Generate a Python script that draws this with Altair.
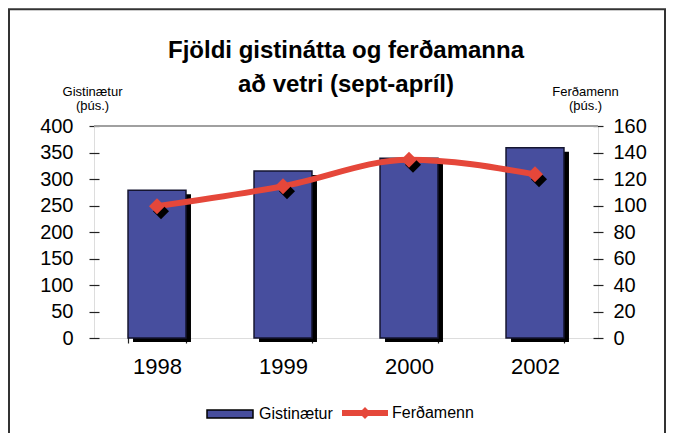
import altair as alt
import pandas as pd

years = ["1998", "1999", "2000", "2002"]
gistinaetur = [279, 315, 339, 359]
ferdamenn = [99.5, 114.5, 134.5, 123.5]
left_ticks = [0, 50, 100, 150, 200, 250, 300, 350, 400]
right_ticks = [0, 20, 40, 60, 80, 100, 120, 140, 160]

FONT = "Liberation Sans"
BAR_COLOR = "#474E9E"
LINE_COLOR = "#E5473A"

bars_df = pd.DataFrame({"year": years, "value": gistinaetur, "series": ["Gistinætur"] * 4})
line_df = pd.DataFrame({"year": years, "value": ferdamenn, "series": ["Ferðamenn"] * 4})

x_enc = alt.X(
    "year:N",
    sort=years,
    scale=alt.Scale(paddingInner=0.54, paddingOuter=0.27),
    axis=alt.Axis(
        title=None, labelAngle=0, labelFont=FONT, labelFontSize=22, labelColor="black",
        domain=False, offset=-5, tickSize=10, tickColor="#222", tickWidth=1.2,
        tickBand="extent", labelPadding=13,
    ),
)

y_left = alt.Y(
    "value:Q",
    scale=alt.Scale(domain=[0, 400], nice=False),
    axis=alt.Axis(
        values=left_ticks, title=["Gistinætur", "(þús.)"], titleAngle=0,
        titleFont=FONT, titleFontSize=13, titleFontWeight="normal", titleColor="black",
        titleX=-7, titleY=-41, titleAlign="center", titleBaseline="top", titleLineHeight=14,
        labelFont=FONT, labelFontSize=20, labelColor="black", labelPadding=16,
        domain=False, offset=-5, tickSize=10, tickColor="#222", tickWidth=1.2, grid=False,
    ),
)

y_right = alt.Y(
    "value:Q",
    scale=alt.Scale(domain=[0, 160], nice=False),
    axis=alt.Axis(
        orient="right", values=right_ticks, title=["Ferðamenn", "(þús.)"], titleAngle=0,
        titleFont=FONT, titleFontSize=13, titleFontWeight="normal", titleColor="black",
        titleX=-8, titleY=-41, titleAlign="center", titleBaseline="top", titleLineHeight=14,
        labelFont=FONT, labelFontSize=20, labelColor="black", labelPadding=10,
        domain=False, offset=-5, tickSize=10, tickColor="#222", tickWidth=1.2, grid=False,
    ),
)

frame = alt.Chart(alt.Data(values=[{}])).mark_rect(
    fillOpacity=0, stroke="#333", strokeWidth=2
).encode(x=alt.value(-85), x2=alt.value(571), y=alt.value(-116.7), y2=alt.value(340))

top_rule = alt.Chart(alt.Data(values=[{}])).mark_rule(
    color="#A0A0A0", strokeWidth=2
).encode(x=alt.value(0), x2=alt.value(504), y=alt.value(0))

bar_shadow = alt.Chart(bars_df).mark_bar(
    color="black", xOffset=5, yOffset=4
).encode(x=x_enc, y=y_left)

bars = alt.Chart(bars_df).mark_bar(
    stroke="#151530", strokeWidth=1.5
).encode(
    x=x_enc,
    y=y_left,
    fill=alt.Fill(
        "series:N",
        scale=alt.Scale(domain=["Gistinætur"], range=[BAR_COLOR]),
        legend=alt.Legend(
            orient="none", legendX=112, legendY=264, title=None,
            symbolType="M-1,-0.17H1V0.17H-1Z", symbolSize=2116,
            symbolStrokeColor="black", symbolStrokeWidth=1.5,
            labelFont=FONT, labelFontSize=16, labelColor="black", labelOffset=5,
        ),
    ),
)

line = alt.Chart(line_df).mark_line(
    strokeWidth=6, interpolate="monotone"
).encode(
    x=x_enc,
    y=y_right,
    stroke=alt.Stroke(
        "series:N",
        scale=alt.Scale(domain=["Ferðamenn"], range=[LINE_COLOR]),
        legend=alt.Legend(
            orient="none", legendX=248, legendY=264, title=None,
            symbolType="M-1,-0.13H-0.13L0,-0.26L0.13,-0.13H1V0.13H0.13L0,0.26L-0.13,0.13H-1Z",
            symbolSize=2116, symbolFillColor=LINE_COLOR, symbolStrokeWidth=0,
            labelFont=FONT, labelFontSize=16, labelColor="black", labelOffset=4,
        ),
    ),
)

point_shadow = alt.Chart(line_df).mark_point(
    shape="diamond", size=256, filled=True, color="black", opacity=1, xOffset=4, yOffset=5
).encode(x=x_enc, y=y_right)

points = alt.Chart(line_df).mark_point(
    shape="diamond", size=256, filled=True, color=LINE_COLOR, opacity=1
).encode(x=x_enc, y=y_right)

left = alt.layer(bar_shadow, bars)
right = alt.layer(line, point_shadow, points)

chart = alt.layer(frame, top_rule, left, right).resolve_scale(
    y="independent"
).properties(
    width=504,
    height=212,
    padding={"left": 86, "top": 118, "right": 68, "bottom": 95},
    autosize=alt.AutoSizeParams(type="none"),
    title=alt.Title(
        ["Fjöldi gistinátta og ferðamanna", "að vetri (sept-apríl)"],
        font=FONT, fontSize=24, fontWeight="bold", color="black",
        anchor="middle", lineHeight=34, offset=-89,
    ),
).configure_view(
    stroke="#222", strokeWidth=1.5
).configure(background="white")

chart.save("out.html", embed_options={"renderer": "svg", "actions": False})
